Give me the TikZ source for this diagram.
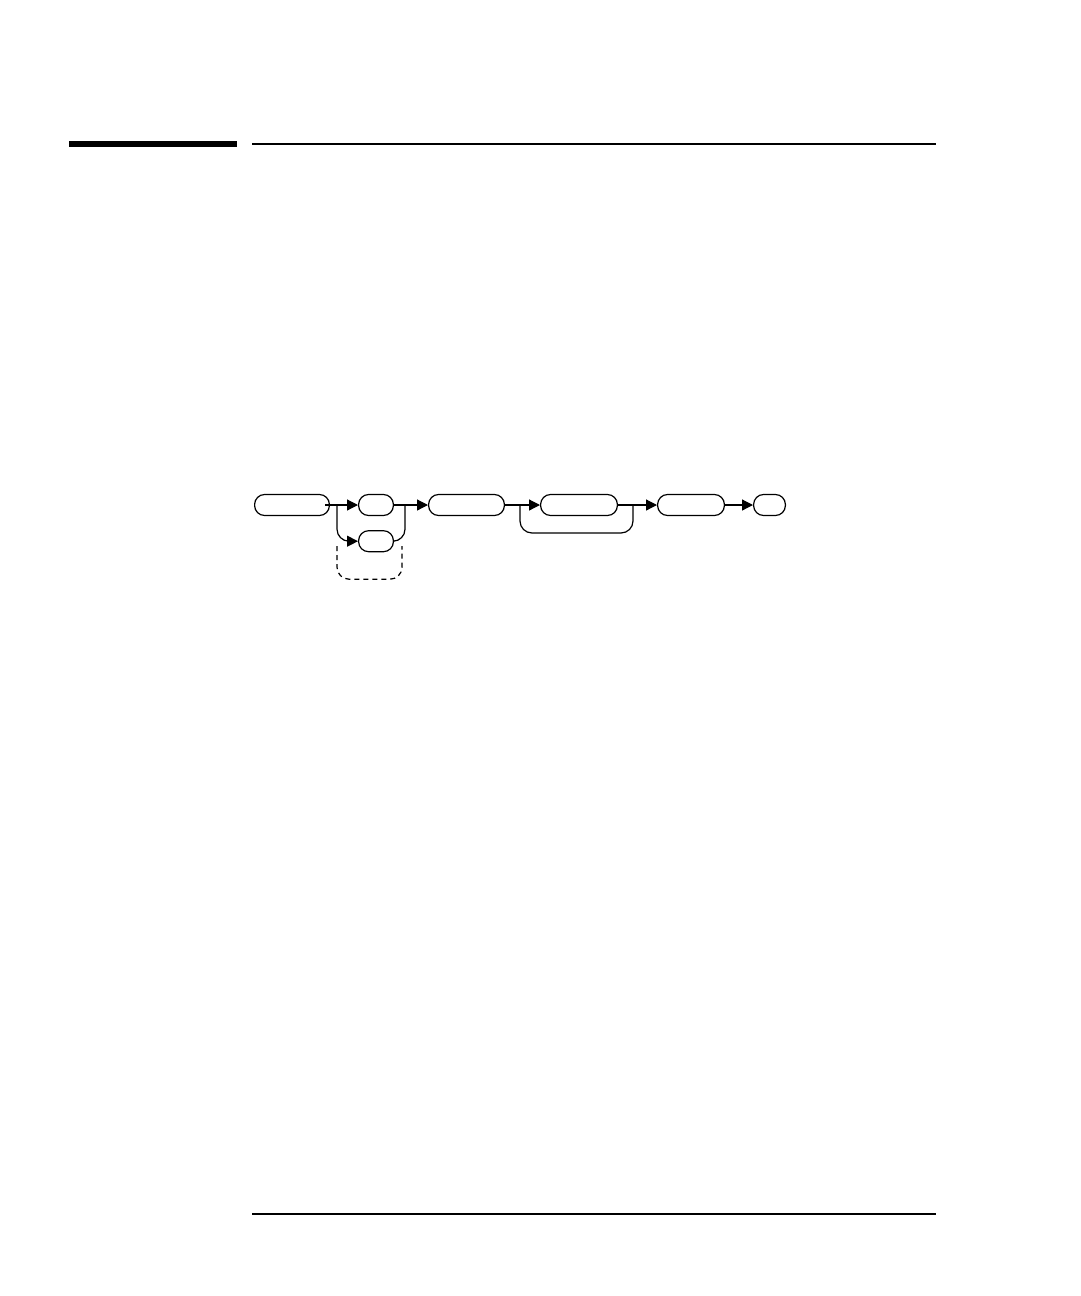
\documentclass[tikz,border=0pt]{standalone}
\usetikzlibrary{positioning,arrows.meta,calc}

\begin{document}
\begin{tikzpicture}[
    x=1pt, y=-1pt,
    >={Triangle[length=11pt,width=11pt]},
    syntaxbox/.style={draw, rectangle, rounded corners=10pt, minimum height=21pt,
                      inner sep=0pt, line width=1.2pt},
    rail/.style={line width=1.2pt, rounded corners=12pt}
  ]
  \useasboundingbox (0,0) rectangle (1080,1296);
  % page rules
  \fill (69,141) rectangle (237,147);
  \draw[line width=1.3pt] (252,144) -- (936,144);
  \draw[line width=1.3pt] (252,1214) -- (936,1214);

  \node[syntaxbox, minimum width=74.8pt] (cmd) at (292,505) {};
  \node[syntaxbox, minimum width=34.8pt] (optA) [right=28pt of cmd] {};
  \node[syntaxbox, minimum width=34.8pt] (optB) [below=14pt of optA] {};
  \node[syntaxbox, minimum width=75.8pt] (param) [right=34pt of optA] {};
  \node[syntaxbox, minimum width=76.8pt] (item) [right=35pt of param] {};
  \node[syntaxbox, minimum width=66.8pt] (suffix) [right=39pt of item] {};
  \node[syntaxbox, minimum width=31.8pt] (term) [right=28pt of suffix] {};

  \coordinate (split) at ($(cmd.east)+(7,0)$);
  \coordinate (merge) at ($(optA.east)+(11,0)$);
  \coordinate (loopin) at ($(param.east)+(15,0)$);
  \coordinate (loopout) at ($(item.east)+(15,0)$);

  \draw[rail, ->] (cmd) -- (split) -- (optA);
  \draw[rail, ->] (split) |- (optB);
  \draw[rail] (optB) -| (merge);
  \draw[rail, ->] (optA) -- (merge) -- (param);
  \draw[rail, dash pattern=on 5pt off 4pt]
    ($(split |- optB)+(0,5)$) -- ++(0,33) -| ($(merge |- optB)+(-3,5)$);

  \draw[rail, ->] (param) -- (loopin) -- (item);
  \draw[rail] (loopin) -- ++(0,28) -| (loopout);
  \draw[rail, ->] (item) -- (loopout) -- (suffix);
  \draw[rail, ->] (suffix) -- (term);
\end{tikzpicture}
\end{document}
